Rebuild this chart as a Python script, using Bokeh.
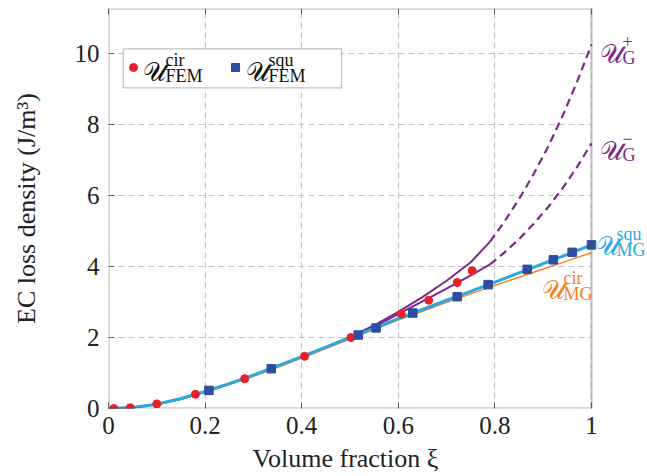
from bokeh.plotting import figure
from bokeh.models import (Range1d, FixedTicker, LinearAxis, Label, Legend,
                          LegendItem, BoxAnnotation)
from bokeh.embed import file_html
from bokeh.resources import INLINE

# ---------------- data ----------------
xi_grid = [0, 0.05, 0.1, 0.15, 0.2, 0.25, 0.3, 0.35, 0.4, 0.45, 0.5,
           0.55, 0.6, 0.65, 0.7, 0.75, 0.8, 0.85, 0.9, 0.95, 1.0]
mg_cir = [0, 0.03, 0.12, 0.27, 0.46, 0.68, 0.91, 1.16, 1.42, 1.69, 1.96,
          2.23, 2.49, 2.74, 2.99, 3.23, 3.47, 3.70, 3.93, 4.16, 4.39]
mg_squ = [0, 0.03, 0.12, 0.28, 0.48, 0.70, 0.94, 1.20, 1.46, 1.73, 2.00,
          2.26, 2.53, 2.79, 3.05, 3.30, 3.56, 3.82, 4.08, 4.34, 4.61]

xi_g_solid = [0, 0.05, 0.1, 0.15, 0.2, 0.25, 0.3, 0.35, 0.4, 0.45, 0.5,
              0.55, 0.6, 0.65, 0.7, 0.75, 0.79]
g_plus_solid = [0, 0.03, 0.12, 0.27, 0.47, 0.69, 0.93, 1.19, 1.45, 1.73, 2.02,
                2.34, 2.72, 3.14, 3.60, 4.12, 4.70]
g_minus_solid = [0, 0.03, 0.12, 0.27, 0.47, 0.69, 0.93, 1.18, 1.44, 1.71, 2.00,
                 2.30, 2.66, 3.02, 3.38, 3.75, 4.06]

xi_g_dash = [0.79, 0.82, 0.85, 0.88, 0.91, 0.94, 0.97, 1.0]
g_plus_dash = [4.70, 5.27, 5.90, 6.60, 7.37, 8.24, 9.20, 10.25]
g_minus_dash = [4.06, 4.40, 4.77, 5.20, 5.67, 6.20, 6.80, 7.47]

fem_cir_xi = [0.011, 0.045, 0.10, 0.18, 0.282, 0.406, 0.502, 0.606, 0.663, 0.722, 0.753]
fem_cir = [0.0, 0.02, 0.13, 0.40, 0.84, 1.47, 2.00, 2.67, 3.05, 3.55, 3.88]

fem_squ_xi = [0.208, 0.337, 0.517, 0.554, 0.630, 0.722, 0.786, 0.867, 0.921, 0.960, 1.0]
fem_squ = [0.51, 1.12, 2.07, 2.27, 2.69, 3.15, 3.49, 3.92, 4.19, 4.40, 4.61]

x_ticks = [0, 0.2, 0.4, 0.6, 0.8, 1]
x_tick_labels = ["0", "0.2", "0.4", "0.6", "0.8", "1"]
y_ticks = [0, 2, 4, 6, 8, 10]
y_tick_labels = ["0", "2", "4", "6", "8", "10"]

x_label = "Volume fraction ξ"
y_label = "EC loss density (J/m³)"

X_MIN, X_MAX = 0, 1
Y_MIN, Y_MAX = 0, 11.27

# ---------------- styles ----------------
SERIF = "Liberation Serif"
PURPLE = "#7b2a85"
CYAN = "#29a9e0"
ORANGE = "#f5821f"
RED = "#e8202a"
BLUE = "#2e4f9f"
GRID = "#c4c4c4"
FRAME = "#4a4a4a"

# the frame extends to the right of x=1 to host the curve labels;
# that strip is blanked and the visible box is drawn at x in [0, 1]
X_VIEW_END = 1.116

p = figure(width=647, height=476, output_backend="svg", toolbar_location=None,
           x_range=Range1d(X_MIN, X_VIEW_END), y_range=Range1d(Y_MIN, Y_MAX),
           min_border_left=108, min_border_right=0, min_border_top=8,
           min_border_bottom=68, background_fill_color="white",
           border_fill_color="white")

p.outline_line_color = None

for ax in (p.xaxis[0], p.yaxis[0]):
    ax.axis_line_color = None
    ax.major_tick_in = 6
    ax.major_tick_out = 0
    ax.major_tick_line_color = "#666666"
    ax.minor_tick_line_color = None
    ax.major_label_text_font = SERIF
    ax.major_label_text_font_size = "25px"
    ax.major_label_text_color = "#222222"
    ax.axis_label_text_font = SERIF
    ax.axis_label_text_font_size = "26px"
    ax.axis_label_text_font_style = "normal"
    ax.axis_label_text_color = "#222222"

p.xaxis[0].ticker = FixedTicker(ticks=x_ticks)
p.xaxis[0].bounds = (X_MIN, X_MAX)
p.xaxis[0].major_label_overrides = dict(zip(x_ticks, x_tick_labels))
p.xaxis[0].major_label_standoff = 8
# trailing wide spaces keep the label centred under x in [0, 1]
p.xaxis[0].axis_label = x_label + "\u2003\u2003\u2002"
p.xaxis[0].axis_label_standoff = 7

p.yaxis[0].ticker = FixedTicker(ticks=y_ticks)
p.yaxis[0].major_label_overrides = dict(zip(y_ticks, y_tick_labels))
p.yaxis[0].major_label_standoff = 9
p.yaxis[0].axis_label = y_label
p.yaxis[0].axis_label_standoff = 31

for g in (p.xgrid[0], p.ygrid[0]):
    g.grid_line_color = GRID
    g.grid_line_dash = "6 4"
    g.grid_line_width = 1.2
p.xgrid[0].ticker = FixedTicker(ticks=x_ticks)
p.ygrid[0].ticker = FixedTicker(ticks=y_ticks)

# mirrored inner ticks on top
top_ax = LinearAxis(ticker=FixedTicker(ticks=x_ticks), bounds=(X_MIN, X_MAX),
                    axis_line_color=None, major_tick_in=6, major_tick_out=0,
                    major_tick_line_color="#666666", minor_tick_line_color=None,
                    major_label_overrides={t: " " for t in x_ticks},
                    major_label_text_font_size="1px", major_label_standoff=0)
p.add_layout(top_ax, "above")

# blank strip right of x = 1 (covers the grid there)
p.add_layout(BoxAnnotation(left=X_MAX, fill_color="white", fill_alpha=1,
                           line_color=None, level="underlay"))

# ---------------- curves ----------------
p.line(xi_g_solid, g_plus_solid, line_color=PURPLE, line_width=2)
p.line(xi_g_solid, g_minus_solid, line_color=PURPLE, line_width=2)
p.line(xi_g_dash, g_plus_dash, line_color=PURPLE, line_width=2.2, line_dash="8 5")
p.line(xi_g_dash, g_minus_dash, line_color=PURPLE, line_width=2.2, line_dash="8 5")
p.line(xi_grid, mg_cir, line_color=ORANGE, line_width=1.5)
p.line(xi_grid, mg_squ, line_color=CYAN, line_width=3)

r_cir = p.scatter(fem_cir_xi, fem_cir, marker="circle", size=8,
                  fill_color=RED, line_color=RED)
r_squ = p.scatter(fem_squ_xi, fem_squ, marker="square", size=8.5,
                  fill_color=BLUE, line_color=BLUE)

# plot box drawn on [0, 1] x [0, Y_MAX]
p.add_layout(BoxAnnotation(left=X_MIN, right=X_MAX, bottom=Y_MIN, top=Y_MAX,
                           fill_alpha=0, line_color=FRAME, line_width=2.4))

# ---------------- legend ----------------
p.add_layout(BoxAnnotation(left=14.7, right=233, bottom=320.7, top=359.7,
                           left_units="screen", right_units="screen",
                           bottom_units="screen", top_units="screen",
                           fill_color="white", fill_alpha=1,
                           line_color="#333333", line_width=1.2))
legend = Legend(items=[LegendItem(label=" ", renderers=[r_cir]),
                       LegendItem(label=" ", renderers=[r_squ])],
                orientation="horizontal", location=(14.7, 330.7),
                glyph_width=20, glyph_height=20, label_width=78,
                label_standoff=0, spacing=4, padding=0, margin=0,
                border_line_color=None, background_fill_alpha=0,
                label_text_font_size="1px")
p.add_layout(legend)


def calU(x, y, sup, sub, color, dx=23, big="26px", small="18px"):
    common = dict(x_units="screen", y_units="screen", text_baseline="alphabetic",
                  text_color=color)
    p.add_layout(Label(x=x, y=y + 3, text="𝒰", text_font="DejaVu Serif",
                       text_font_size=big, **common))
    p.add_layout(Label(x=x + dx, y=y + 15, text=sup, text_font=SERIF,
                       text_font_size=small, **common))
    p.add_layout(Label(x=x + dx, y=y - 1, text=sub, text_font=SERIF,
                       text_font_size=small, **common))


calU(34, 334, "cir", "FEM", "#111111")
calU(137, 334, "squ", "FEM", "#111111")
calU(491, 352, "+", "G", PURPLE)
calU(491, 255, "−", "G", PURPLE)
calU(487, 160, "squ", "MG", CYAN, dx=21)
calU(433, 116, "cir", "MG", ORANGE, dx=22)

open("out.html", "w").write(file_html(p, INLINE))
